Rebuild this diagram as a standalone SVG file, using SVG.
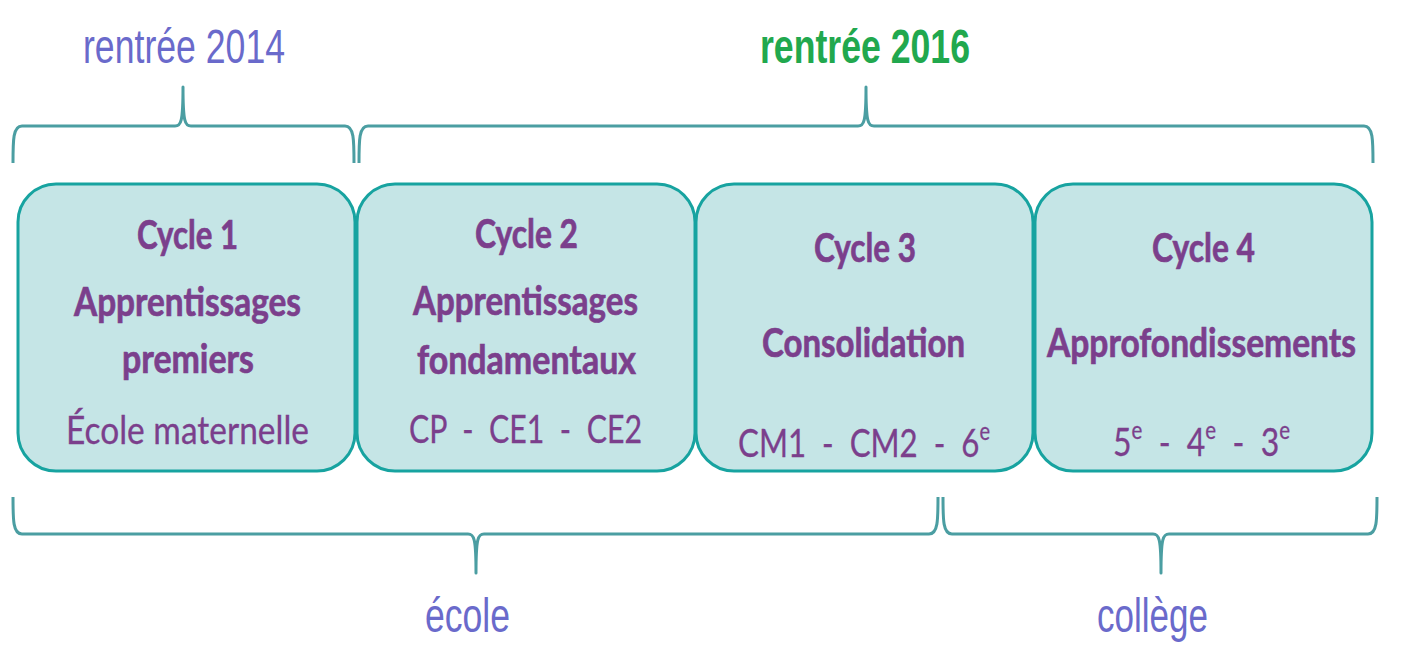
<svg xmlns="http://www.w3.org/2000/svg" width="1405" height="658" viewBox="0 0 1405 658">
<style>
.box{fill:#c5e5e6;stroke:#17a3a0;stroke-width:3}
.brace{fill:none;stroke:#4b9ea2;stroke-width:3;stroke-linejoin:round;stroke-linecap:butt}
.b{font-family:Lato,"Open Sans",sans-serif;font-weight:bold;font-size:41px;fill:#7b3f8c;stroke:#7b3f8c;stroke-width:0.7px}
.r{font-family:Lato,"Open Sans",sans-serif;font-weight:normal;font-size:39px;fill:#7b3f8c;stroke:#7b3f8c;stroke-width:0.3px;white-space:pre}
.lbl{font-family:"Liberation Sans",Arial,sans-serif;font-size:48px;fill:#6a6acb}
.lblg{font-family:"Liberation Sans",Arial,sans-serif;font-size:48px;font-weight:bold;fill:#21a84e}
</style>
<rect width="1405" height="658" fill="#ffffff"/>
<g id="connectors">
<path class="brace" d="M13,163 C13,140 13,126 22,126 L175,126 C181,126 183,122 183,87 C183,122 185,126 191,126 L345,126 C354,126 354,140 354,163"/>
<path class="brace" d="M359,163 C359,140 359,126 368,126 L858,126 C864,126 866,122 866,87 C866,122 868,126 874,126 L1364,126 C1373,126 1373,140 1373,163"/>
<path class="brace" d="M13,497 C13,520 13,534 22,534 L468,534 C474,534 476,538 476,573 C476,538 478,534 484,534 L929,534 C938,534 938,520 938,497"/>
<path class="brace" d="M943,497 C943,520 943,534 952,534 L1153,534 C1159,534 1161,538 1161,573 C1161,538 1163,534 1169,534 L1368,534 C1377,534 1377,520 1377,497"/>
</g>
<g id="label-2014"><text class="lbl" x="83" y="63" textLength="202" lengthAdjust="spacingAndGlyphs">rentrée 2014</text></g>
<g id="label-2016"><text class="lblg" x="760" y="63" textLength="210" lengthAdjust="spacingAndGlyphs">rentrée 2016</text></g>
<g id="cycle1">
<rect class="box" x="18" y="184" width="337" height="287" rx="38" ry="38"/>
<text class="b" x="137" y="249" textLength="101" lengthAdjust="spacingAndGlyphs">Cycle 1</text>
<text class="b" x="74" y="316" textLength="227" lengthAdjust="spacingAndGlyphs">Apprentissages</text>
<text class="b" x="122" y="373" textLength="132" lengthAdjust="spacingAndGlyphs">premiers</text>
<text class="r" x="66" y="444" textLength="243" lengthAdjust="spacingAndGlyphs">École maternelle</text>
</g>
<g id="cycle2">
<rect class="box" x="357" y="184" width="338" height="287" rx="38" ry="38"/>
<text class="b" x="475" y="248" textLength="103" lengthAdjust="spacingAndGlyphs">Cycle 2</text>
<text class="b" x="413" y="315" textLength="225" lengthAdjust="spacingAndGlyphs">Apprentissages</text>
<text class="b" x="417" y="374" textLength="219" lengthAdjust="spacingAndGlyphs">fondamentaux</text>
<text class="r" x="409" y="443" textLength="233" lengthAdjust="spacingAndGlyphs">CP  -  CE1  -  CE2</text>
</g>
<g id="cycle3">
<rect class="box" x="696" y="184" width="337" height="287" rx="38" ry="38"/>
<text class="b" x="814" y="262" textLength="102" lengthAdjust="spacingAndGlyphs">Cycle 3</text>
<text class="b" x="762" y="357" textLength="203" lengthAdjust="spacingAndGlyphs">Consolidation</text>
<text class="r" x="738" y="457" textLength="252" lengthAdjust="spacingAndGlyphs">CM1  -  CM2  -  6<tspan font-size="25" dy="-17">e</tspan></text>
</g>
<g id="cycle4">
<rect class="box" x="1035" y="184" width="337" height="287" rx="38" ry="38"/>
<text class="b" x="1152" y="262" textLength="103" lengthAdjust="spacingAndGlyphs">Cycle 4</text>
<text class="b" x="1047" y="357" textLength="309" lengthAdjust="spacingAndGlyphs">Approfondissements</text>
<text class="r" x="1113" y="456" textLength="177" lengthAdjust="spacingAndGlyphs">5<tspan font-size="25" dy="-17">e</tspan><tspan dy="17">  -  4</tspan><tspan font-size="25" dy="-17">e</tspan><tspan dy="17">  -  3</tspan><tspan font-size="25" dy="-17">e</tspan></text>
</g>
<g id="label-ecole"><text class="lbl" x="425" y="632" textLength="85" lengthAdjust="spacingAndGlyphs">école</text></g>
<g id="label-college"><text class="lbl" x="1097" y="632" textLength="111" lengthAdjust="spacingAndGlyphs">collège</text></g>
</svg>
